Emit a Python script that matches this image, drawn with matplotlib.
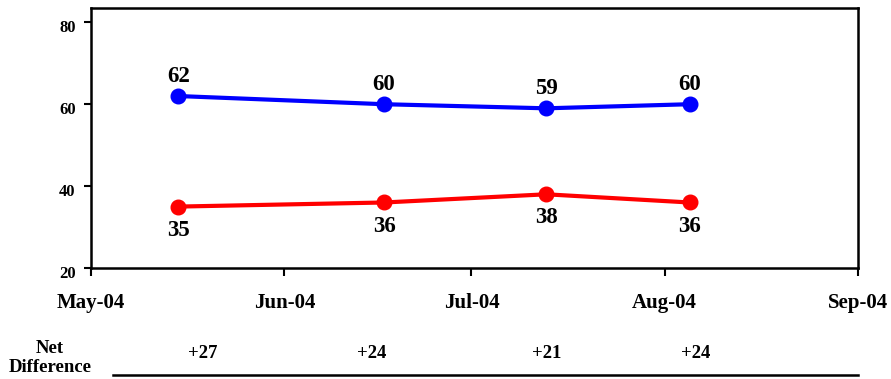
import datetime as dt
import matplotlib
matplotlib.use('Agg')
import matplotlib.pyplot as plt
import matplotlib.dates as mdates
import matplotlib.transforms as mtransforms

plt.rcParams['font.family'] = ['Liberation Serif', 'DejaVu Serif']
plt.rcParams['font.weight'] = 'bold'

# survey dates and the two series
dates = [dt.date(2004, 5, 15), dt.date(2004, 6, 17), dt.date(2004, 7, 13), dt.date(2004, 8, 5)]
blue_vals = [62, 60, 59, 60]
red_vals = [35, 36, 38, 36]
net_diff = [b - r for b, r in zip(blue_vals, red_vals)]
# where the net difference figures sit in the row below
net_dates = [dt.date(2004, 5, 19), dt.date(2004, 6, 15), dt.date(2004, 7, 13), dt.date(2004, 8, 6)]
month_ticks = [dt.date(2004, m, 1) for m in range(5, 10)]
y_ticks = [20, 40, 60, 80]

fig = plt.figure(figsize=(8.91, 3.79), dpi=100)
ax = fig.add_axes([91 / 891, 1 - 268 / 379, (858 - 91) / 891, (268 - 8) / 379])

ax.plot(dates, blue_vals, color='#0000ff', lw=3, marker='o', ms=10.5, solid_capstyle='round')
ax.plot(dates, red_vals, color='#ff0000', lw=3, marker='o', ms=10.5, solid_capstyle='round')

for d, v in zip(dates, blue_vals):
    ax.annotate(str(v), (d, v), xytext=(0, 14), textcoords='offset points',
                ha='center', va='center', fontsize=16.5, fontweight='bold')
for d, v in zip(dates, red_vals):
    ax.annotate(str(v), (d, v), xytext=(0, -17), textcoords='offset points',
                ha='center', va='center', fontsize=16.5, fontweight='bold')

ax.set_xlim(month_ticks[0], month_ticks[-1])
ax.set_ylim(20, 83.5)
ax.set_xticks(month_ticks)
ax.xaxis.set_major_formatter(mdates.DateFormatter('%b-%y'))
ax.set_yticks(y_ticks)
ax.tick_params(axis='x', direction='out', length=6, width=1.5, pad=12, labelsize=15)
ax.tick_params(axis='y', direction='out', length=5, width=1.5, pad=6, labelsize=12)
# y labels sit a little below their ticks
shift = mtransforms.ScaledTranslation(0, -4 / 100, fig.dpi_scale_trans)
for lbl in ax.get_yticklabels():
    lbl.set_transform(lbl.get_transform() + shift)
for lbl in ax.get_xticklabels() + ax.get_yticklabels():
    lbl.set_fontweight('bold')
for sp in ax.spines.values():
    sp.set_linewidth(1.8)

# net difference row under the axis
trans = mtransforms.blended_transform_factory(ax.transData, fig.transFigure)
for d, n in zip(net_dates, net_diff):
    ax.text(d, 1 - 353 / 379, '+%d' % n, transform=trans, ha='center', va='center',
            fontsize=13.5, fontweight='bold')
fig.text(50 / 891, 1 - 358 / 379, 'Net\nDifference', ha='center', va='center',
         fontsize=13.5, fontweight='bold', linespacing=1.1)
fig.add_artist(plt.Line2D([113 / 891, 858 / 891], [1 - 375 / 379] * 2,
                          transform=fig.transFigure, color='black', lw=1.8))

fig.savefig('out.png', dpi=100)
